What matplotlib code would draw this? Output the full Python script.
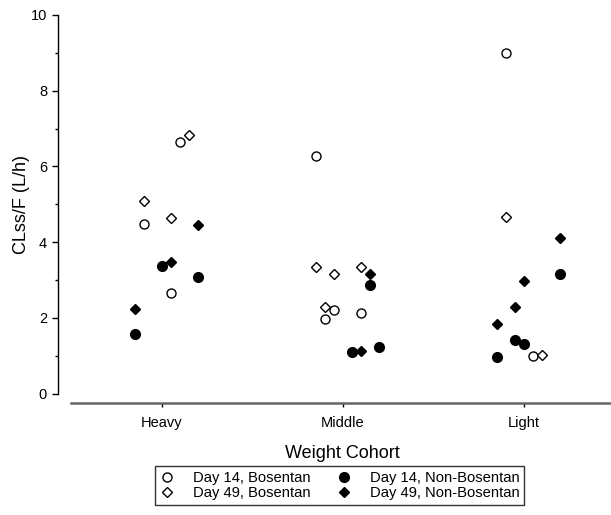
import matplotlib
matplotlib.use("Agg")
import matplotlib.pyplot as plt

categories = ["Heavy", "Middle", "Light"]

# (cohort index, jitter offset, value)
d14_bos_cohort = [0, 0, 0, 1, 1, 1, 1, 2, 2]
d14_bos_jitter = [0.10, -0.10, 0.05, -0.15, -0.05, -0.10, 0.10, -0.10, 0.05]
d14_bos_vals = [6.65, 4.49, 2.66, 6.27, 2.20, 1.96, 2.14, 9.00, 0.99]

d49_bos_cohort = [0, 0, 0, 1, 1, 1, 1, 2, 2]
d49_bos_jitter = [0.15, -0.10, 0.05, -0.15, -0.05, 0.10, -0.10, -0.10, 0.10]
d49_bos_vals = [6.83, 5.09, 4.64, 3.34, 3.17, 3.35, 2.29, 4.67, 1.01]

d14_non_cohort = [0, 0, 0, 1, 1, 1, 2, 2, 2, 2]
d14_non_jitter = [0.0, 0.20, -0.15, 0.15, 0.05, 0.20, 0.20, -0.05, 0.0, -0.15]
d14_non_vals = [3.37, 3.09, 1.58, 2.87, 1.09, 1.23, 3.17, 1.43, 1.30, 0.97]

d49_non_cohort = [0, 0, 0, 1, 1, 2, 2, 2, 2]
d49_non_jitter = [0.20, 0.05, -0.15, 0.15, 0.10, 0.20, 0.0, -0.05, -0.15]
d49_non_vals = [4.45, 3.47, 2.24, 3.17, 1.13, 4.12, 2.98, 2.30, 1.85]

legend_labels = ["Day 14, Bosentan", "Day 49, Bosentan",
                 "Day 14, Non-Bosentan", "Day 49, Non-Bosentan"]

plt.rcParams['font.family'] = ['Liberation Sans', 'DejaVu Sans']

fig = plt.figure(figsize=(6.11, 5.15), dpi=100)
ax = fig.add_axes([57.5 / 611, (515 - 393.7) / 515, 1 - 57.5 / 611, (393.7 - 15) / 515])

def xs(cohort, jitter):
    return [c + 1 + j for c, j in zip(cohort, jitter)]

h1, = ax.plot(xs(d14_bos_cohort, d14_bos_jitter), d14_bos_vals, 'o', ms=6.5,
              mfc='white', mec='black', mew=1.0, linestyle='none')
h2, = ax.plot(xs(d49_bos_cohort, d49_bos_jitter), d49_bos_vals, 'D', ms=5.0,
              mfc='white', mec='black', mew=1.0, linestyle='none')
h3, = ax.plot(xs(d14_non_cohort, d14_non_jitter), d14_non_vals, 'o', ms=7.0,
              mfc='black', mec='black', mew=1.0, linestyle='none')
h4, = ax.plot(xs(d49_non_cohort, d49_non_jitter), d49_non_vals, 'D', ms=5.5,
              mfc='black', mec='black', mew=1.0, linestyle='none')

ax.set_xlim(0.424, 3.482)
ax.set_ylim(0, 10)

ax.spines['top'].set_visible(False)
ax.spines['right'].set_visible(False)
ax.spines['left'].set_linewidth(1.0)
ax.spines['bottom'].set_position(('outward', 6.9))
ax.spines['bottom'].set_bounds(0.497, 3.482)
ax.spines['bottom'].set_color('#666666')
ax.spines['bottom'].set_linewidth(1.8)

ax.set_xticks([1, 2, 3])
ax.set_xticklabels(categories, fontsize=10.5)
ax.set_yticks([0, 2, 4, 6, 8, 10])
ax.set_yticks([1, 3, 5, 7, 9], minor=True)
ax.tick_params(axis='y', which='major', length=4.5, width=1.0, direction='out', labelsize=10.5, pad=3)
ax.tick_params(axis='y', which='minor', length=2.5, width=1.0, direction='out')
ax.tick_params(axis='x', which='major', length=3, width=1.0, color='black', direction='out', labelsize=10.5, pad=6)

ax.set_xlabel("Weight Cohort", fontsize=13)
ax.set_ylabel("CLss/F (L/h)", fontsize=13)
ax.xaxis.set_label_coords((342.7 - 57.5) / (611 - 57.5), -(453 - 393.7) / (393.7 - 15), transform=ax.transAxes)
ax.xaxis.label.set_va('center')
ax.yaxis.set_label_coords(-(57.5 - 21) / (611 - 57.5), (393.7 - 204) / (393.7 - 15), transform=ax.transAxes)
ax.yaxis.label.set_va('center')

leg = fig.legend([h1, h2, h3, h4], legend_labels, ncol=2, loc='center',
                 bbox_to_anchor=((153 + 526) / 2 / 611, 1 - 485.5 / 515),
                 fontsize=10.6, frameon=True, fancybox=False, edgecolor='black',
                 handlelength=1.0, handletextpad=1.25, columnspacing=1.8,
                 labelspacing=0.1, borderpad=0.3)
leg.get_frame().set_linewidth(1.0)

fig.savefig("out.png", dpi=100)
